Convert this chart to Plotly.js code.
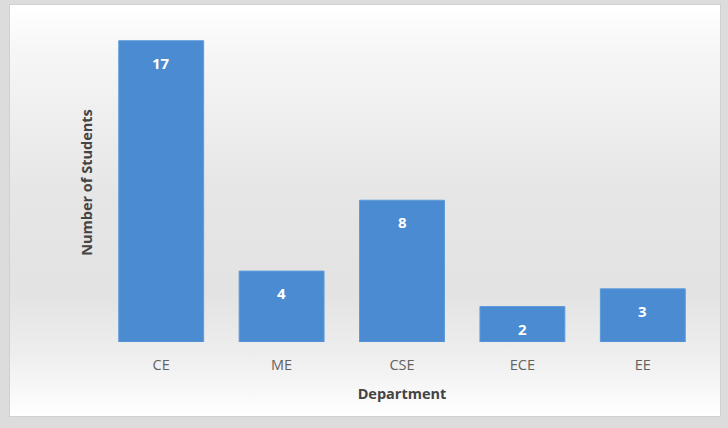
<!DOCTYPE html>
<html>
<head>
<meta charset="utf-8">
<script src="https://cdn.plot.ly/plotly-3.0.1.min.js"></script>
<style>
  html, body { margin:0; padding:0; width:728px; height:428px; overflow:hidden; background:#dcdcdc; }
  #panel { position:absolute; left:9px; top:4px; width:710px; height:411px;
    border:1px solid #d0d0d0;
    background:linear-gradient(to bottom, #ffffff 0%, #f6f6f6 12%, #e6e6e6 45%, #e3e3e3 70%, #eeeeee 85%, #ffffff 100%); }
  #chart { position:absolute; left:0; top:0; width:728px; height:428px; }
</style>
</head>
<body>
<div id="panel"></div>
<div id="chart"></div>
<script>
const departments = ["CE", "ME", "CSE", "ECE", "EE"];
const students = [17, 4, 8, 2, 3];

const trace = {
  type: "bar",
  x: departments,
  y: students,
  marker: { color: "#4a8bd2", line: { color: "#5d9ad8", width: 1 } },
  hoverinfo: "x+y"
};

const labels = departments.map((d, i) => ({
  x: d, y: students[i], xref: "x", yref: "y",
  text: "<b>" + students[i] + "</b>",
  showarrow: false, yanchor: "top", yshift: -10,
  font: { family: "Open Sans, sans-serif", size: 15, color: "#ffffff" }
}));

const layout = {
  width: 728, height: 428,
  margin: { l: 101, r: 25, t: 23, b: 86 },
  paper_bgcolor: "rgba(0,0,0,0)",
  plot_bgcolor: "rgba(0,0,0,0)",
  bargap: 0.295,
  showlegend: false,
  font: { family: "Open Sans, sans-serif", color: "#595959" },
  xaxis: {
    showgrid: false, zeroline: false, showline: false,
    ticks: "outside", ticklen: 10, tickcolor: "rgba(0,0,0,0)",
    tickfont: { size: 14.5, color: "#626262" },
    title: { text: "<b>Department</b>", font: { size: 14.5, color: "#444444" }, standoff: 15 }
  },
  yaxis: {
    range: [0, 18], showgrid: false, zeroline: false, showline: false,
    showticklabels: false, ticks: "",
    title: { text: "<b>Number of Students</b>", font: { size: 14.5, color: "#444444" }, standoff: 3 }
  },
  annotations: labels
};

Plotly.newPlot("chart", [trace], layout, { displayModeBar: false, staticPlot: true });
</script>
</body>
</html>
